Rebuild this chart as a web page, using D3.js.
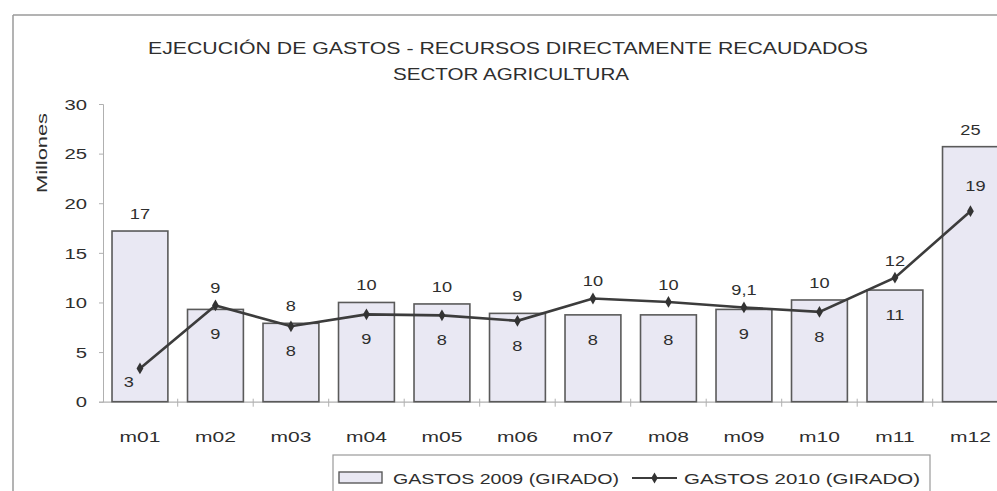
<!DOCTYPE html>
<html><head><meta charset="utf-8">
<script src="https://cdn.jsdelivr.net/npm/d3@7"></script>
<style>html,body{margin:0;padding:0;background:#fff;overflow:hidden}svg{display:block}text{font-family:"Liberation Sans",Arial,sans-serif;fill:#2e2e2e}</style>
</head><body>
<script>
const months = ["m01","m02","m03","m04","m05","m06","m07","m08","m09","m10","m11","m12"];
const gastos2009 = [17.2, 9.3, 7.9, 10.0, 9.85, 8.9, 8.75, 8.75, 9.3, 10.25, 11.25, 25.7];
const gastos2010 = [3.35, 9.7, 7.6, 8.8, 8.7, 8.15, 10.4, 10.05, 9.5, 9.05, 12.5, 19.2];
const labels2009 = ["17","9","8","10","10","9","8","8","9","10","11","25"];
const labels2010 = ["3","9","8","9","8","8","10","10","9,1","8","12","19"];
const yTicks = [0,5,10,15,20,25,30];
const titleLines = ["EJECUCIÓN DE GASTOS - RECURSOS DIRECTAMENTE RECAUDADOS","SECTOR AGRICULTURA"];
const yTitle = "Millones";
const legendNames = ["GASTOS 2009 (GIRADO)","GASTOS 2010 (GIRADO)"];

const W = 997, H = 491;
const svg = d3.select("body").append("svg").attr("width", W).attr("height", H);

function stretch(sel, k){ sel.each(function(){ const w=this.getComputedTextLength(); d3.select(this).attr("textLength", w*k).attr("lengthAdjust","spacingAndGlyphs"); }); }
function fitTo(sel, w){ sel.attr("textLength", w).attr("lengthAdjust","spacingAndGlyphs"); }

// outer frame
svg.append("line").attr("x1",13).attr("x2",13).attr("y1",15).attr("y2",H).attr("stroke","#9a9a9a").attr("stroke-width",1.5);
svg.append("line").attr("x1",13).attr("x2",W).attr("y1",15).attr("y2",15).attr("stroke","#9a9a9a").attr("stroke-width",1.5);

const x = d3.scaleBand().domain(months).range([102.2, 1008.2]).paddingInner(0.26).paddingOuter(0.13);
const y = d3.scaleLinear().domain([0,30]).range([401.7, 104]);

// title
const t1 = svg.append("text").attr("x",508).attr("y",54).attr("text-anchor","middle").attr("font-size",17).text(titleLines[0]);
fitTo(t1, 720);
const t2 = svg.append("text").attr("x",511).attr("y",80).attr("text-anchor","middle").attr("font-size",17).text(titleLines[1]);
fitTo(t2, 236);

// y axis
const ya = svg.append("g").attr("transform","translate(103,0)")
  .call(d3.axisLeft(y).tickValues(yTicks).tickSize(4).tickPadding(12).tickFormat(d3.format("d")));
ya.select(".domain").attr("stroke","#b0b0b0").attr("stroke-width",1);
ya.selectAll(".tick line").attr("stroke","#b0b0b0");
ya.selectAll(".tick text").attr("font-size",15).attr("fill","#2e2e2e").attr("dy","0.35em");
stretch(ya.selectAll(".tick text"), 1.35);

svg.append("text").attr("transform","translate(47,153) rotate(-90)").attr("text-anchor","middle").attr("font-size",15).text(yTitle)
  .call(s=>fitTo(s,80));

// x axis
const xa = svg.append("g").attr("transform",`translate(0,${y(0)})`)
  .call(d3.axisBottom(x).tickSize(0).tickPadding(35));
xa.select(".domain").attr("stroke","#b0b0b0").attr("stroke-width",1.2);
xa.selectAll(".tick text").attr("font-size",15).attr("fill","#2e2e2e").attr("dy","0.35em");
stretch(xa.selectAll(".tick text"), 1.4);
// separators between categories
const step = x.step();
svg.append("g").selectAll("line").data(months.slice(1)).join("line")
  .attr("x1",d=>x(d)-step*x.paddingInner()/2).attr("x2",d=>x(d)-step*x.paddingInner()/2)
  .attr("y1",y(0)-3).attr("y2",y(0)+5).attr("stroke","#b0b0b0");

// bars
svg.append("g").selectAll("rect").data(months).join("rect")
  .attr("x",d=>x(d)).attr("width",x.bandwidth())
  .attr("y",(d,i)=>y(gastos2009[i])).attr("height",(d,i)=>y(0)-y(gastos2009[i]))
  .attr("fill","#e9e8f3").attr("stroke","#5a5a5a").attr("stroke-width",1.6);

// line
const cx = d=>x(d)+x.bandwidth()/2;
const line = d3.line().x((d,i)=>cx(months[i])).y(d=>y(d));
svg.append("path").datum(gastos2010).attr("d",line).attr("fill","none").attr("stroke","#3c3c3c").attr("stroke-width",2.6);
svg.append("g").selectAll("path").data(gastos2010).join("path")
  .attr("d",d3.symbol(d3.symbolDiamond,40))
  .attr("transform",(d,i)=>`translate(${cx(months[i])},${y(d)})`)
  .attr("fill","#333");

// data labels
const lg = svg.append("g");
months.forEach((m,i)=>{
  const b = gastos2009[i], l = gastos2010[i], c = cx(m);
  let bx=c, by, lx=c, ly;
  if (b >= l) { by = y(b)-12; ly = y(l)+30; }
  else { ly = y(l)-12; by = y(b)+30; }
  if (i===0) { lx = c-11; ly = y(l)+19; }
  if (i===11) { ly = y(l)-20; lx = c+5; }
  [[bx,by,labels2009[i]],[lx,ly,labels2010[i]]].forEach(([tx,ty,s])=>{
    const t = lg.append("text").attr("x",tx).attr("y",ty).attr("text-anchor","middle").attr("font-size",14).text(s);
    stretch(t,1.3);
  });
});

// legend
const lgY = 478;
svg.append("rect").attr("x",333).attr("y",455).attr("width",597).attr("height",60).attr("fill","none").attr("stroke","#9a9a9a").attr("stroke-width",1.2);
svg.append("rect").attr("x",339).attr("y",472).attr("width",43).attr("height",11).attr("fill","#e9e8f3").attr("stroke","#5a5a5a").attr("stroke-width",1.4);
svg.append("text").attr("x",393).attr("y",lgY+6).attr("font-size",15).text(legendNames[0]).call(s=>fitTo(s,226));
svg.append("line").attr("x1",632).attr("x2",677).attr("y1",lgY).attr("y2",lgY).attr("stroke","#3c3c3c").attr("stroke-width",2.2);
svg.append("path").attr("d",d3.symbol(d3.symbolDiamond,36)).attr("transform",`translate(654.5,${lgY})`).attr("fill","#333");
svg.append("text").attr("x",684).attr("y",lgY+6).attr("font-size",15).text(legendNames[1]).call(s=>fitTo(s,236));
</script>
</body></html>
